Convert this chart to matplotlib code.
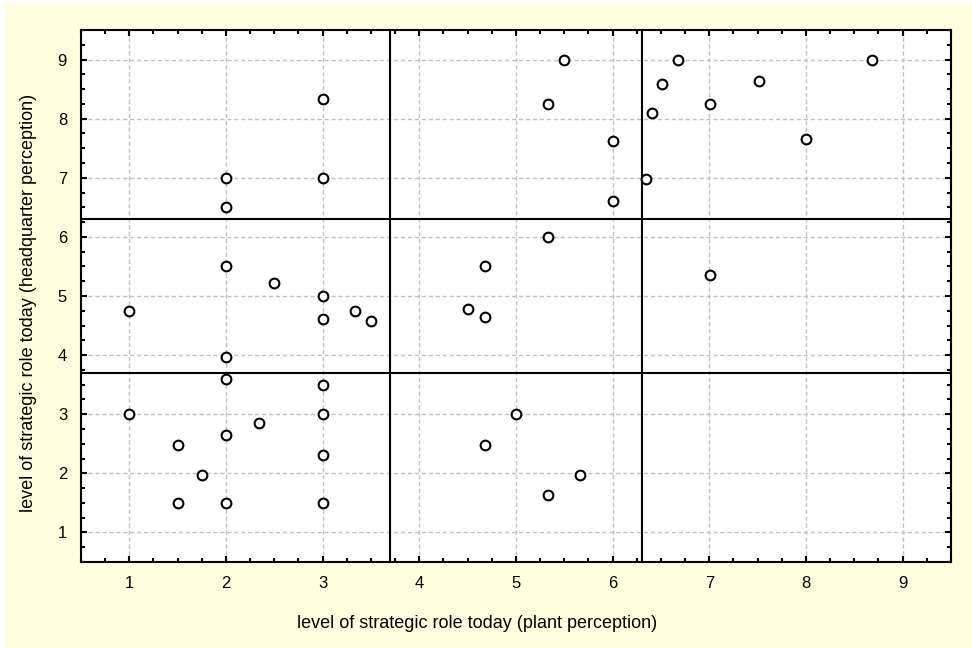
import matplotlib
matplotlib.use("Agg")
import matplotlib.pyplot as plt
from matplotlib.patches import Rectangle
from matplotlib.ticker import MultipleLocator

plt.rcParams['font.family'] = ['Liberation Sans', 'DejaVu Sans']

# plant perception (x) vs headquarter perception (y)
plant = [3, 2, 3, 2,
         2, 2.5, 3, 1, 3, 3.33, 3.5, 2,
         2, 3, 1, 3, 2.34, 2, 1.5, 3, 1.75, 1.5, 2, 3,
         5.5, 5.33, 6, 6, 6.35, 6.41, 6.51, 6.68, 7.51, 7.01, 8.0, 8.68,
         7.01, 5.33, 4.68, 4.5, 4.68,
         5.0, 4.68, 5.66, 5.33]
hq = [8.33, 7, 7, 6.5,
      5.5, 5.22, 5.0, 4.75, 4.61, 4.75, 4.58, 3.97,
      3.6, 3.5, 3.0, 3.0, 2.85, 2.65, 2.48, 2.31, 1.98, 1.5, 1.5, 1.5,
      9.0, 8.24, 7.63, 6.61, 6.98, 8.1, 8.58, 9.0, 8.64, 8.24, 7.66, 9.0,
      5.36, 6.0, 5.5, 4.78, 4.64,
      3.0, 2.48, 1.98, 1.63]

cut_x = [3.7, 6.3]
cut_y = [3.7, 6.3]

fig = plt.figure(figsize=(9.72, 6.48), dpi=100, facecolor='white')
fig.patches.append(Rectangle((5 / 972, 0), 1, 1 - 3 / 648, transform=fig.transFigure,
                             facecolor='#FFFFE0', edgecolor='none', zorder=-10))
ax = fig.add_axes([0.0833, 0.1327, 0.895, 0.821])
ax.set_facecolor('white')

ax.plot(plant, hq, 'o', ms=7, mfc='white', mec='black', mew=1.5, zorder=5, clip_on=False)

for v in cut_x:
    ax.axvline(v, color='black', lw=1.5, zorder=4)
for v in cut_y:
    ax.axhline(v, color='black', lw=1.5, zorder=4)

ax.set_xlim(0.5, 9.5)
ax.set_ylim(0.5, 9.5)
ax.xaxis.set_major_locator(MultipleLocator(1))
ax.yaxis.set_major_locator(MultipleLocator(1))
ax.xaxis.set_minor_locator(MultipleLocator(0.25))
ax.yaxis.set_minor_locator(MultipleLocator(0.25))
ax.tick_params(which='both', direction='in', top=True, right=True, width=1.5, labelsize=12)
ax.tick_params(which='major', length=4, pad=10)
ax.tick_params(which='minor', length=3)
ax.grid(True, which='major', color='#c0c0c0', ls=(0, (3, 2)), lw=1)
ax.set_axisbelow(True)
for s in ax.spines.values():
    s.set_linewidth(1.5)

ax.set_xlabel('level of strategic role today (plant perception)', fontsize=13, va='center')
ax.set_ylabel('level of strategic role today (headquarter perception)', fontsize=13,
              va='center', ha='center')
ax.xaxis.set_label_coords(0.455, -0.115)
ax.yaxis.set_label_coords(-0.06, 0.487)

fig.savefig('out.png', dpi=100, facecolor=fig.get_facecolor())
